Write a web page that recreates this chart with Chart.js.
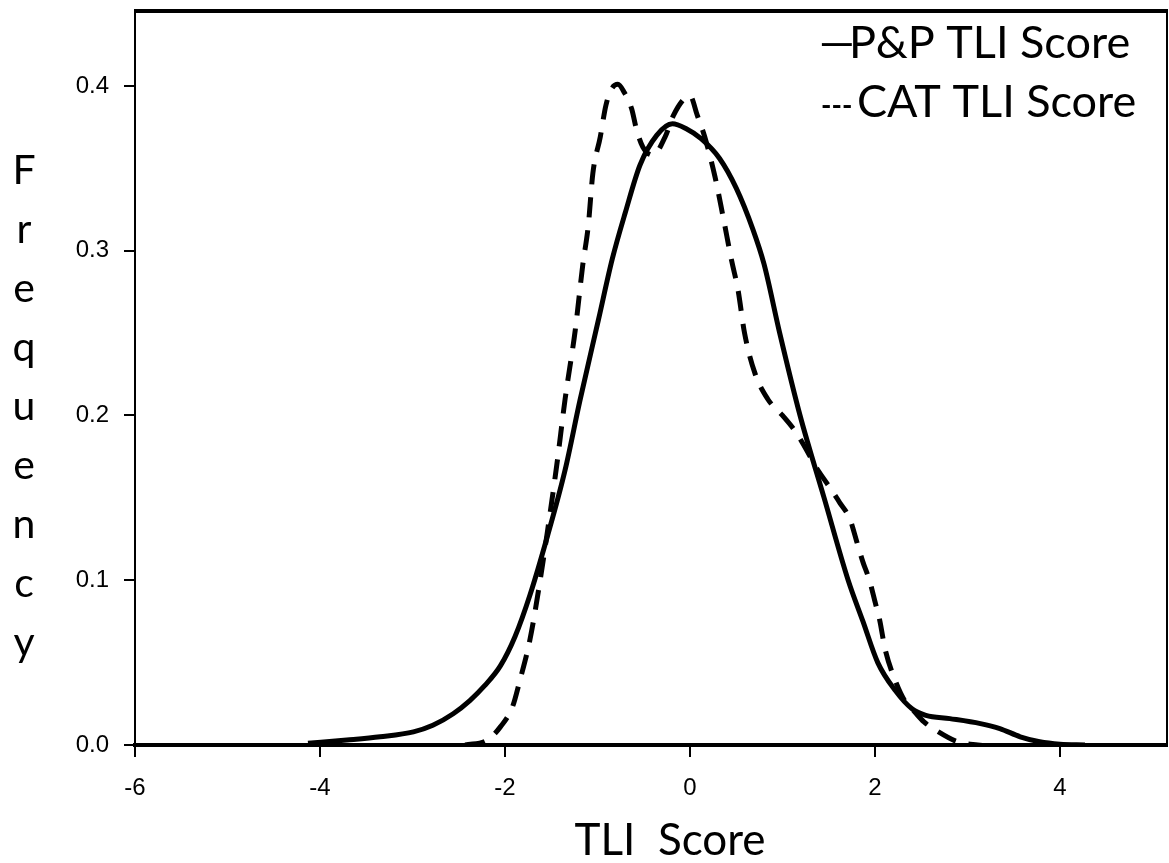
<!DOCTYPE html>
<html>
<head>
<meta charset="utf-8">
<script src="https://cdn.jsdelivr.net/npm/chart.js@4.4.1/dist/chart.umd.min.js"></script>
<style>
  html, body { margin: 0; padding: 0; background: #fff; }
  #wrap { width: 1169px; height: 863px; position: relative; }
</style>
</head>
<body>
<div id="wrap"><canvas id="c"></canvas></div>
<script>
// ---- data ----
const xTicks = [-6, -4, -2, 0, 2, 4];
const yTicks = [0.0, 0.1, 0.2, 0.3, 0.4];

const ppX = [-4.13, -3.71, -3.35, -2.99, -2.78, -2.56, -2.38, -2.22, -2.05, -1.89, -1.73, -1.54, -1.35, -1.19, -0.99, -0.84, -0.70, -0.54, -0.36, -0.19, -0.04, 0.12, 0.32, 0.50, 0.68, 0.80, 0.97, 1.19, 1.45, 1.71, 1.87, 2.03, 2.22, 2.40, 2.55, 2.81, 3.14, 3.35, 3.57, 3.78, 4.00, 4.27];
const ppY = [0.001, 0.003, 0.005, 0.008, 0.012, 0.019, 0.027, 0.036, 0.048, 0.066, 0.091, 0.127, 0.167, 0.209, 0.258, 0.295, 0.323, 0.352, 0.370, 0.377, 0.374, 0.368, 0.356, 0.338, 0.313, 0.292, 0.250, 0.200, 0.150, 0.100, 0.075, 0.050, 0.033, 0.022, 0.018, 0.016, 0.013, 0.010, 0.005, 0.002, 0.0005, 0.0];

const catX = [-2.43, -2.19, -2.05, -1.92, -1.84, -1.73, -1.62, -1.54, -1.44, -1.35, -1.24, -1.16, -1.10, -1.05, -0.97, -0.91, -0.85, -0.78, -0.71, -0.63, -0.58, -0.51, -0.40, -0.27, -0.18, -0.05, 0.00, 0.08, 0.16, 0.27, 0.36, 0.45, 0.52, 0.59, 0.70, 0.84, 1.00, 1.13, 1.22, 1.37, 1.49, 1.62, 1.73, 1.80, 1.87, 1.94, 2.00, 2.05, 2.11, 2.22, 2.32, 2.43, 2.53, 2.67, 2.89, 3.11, 3.34];
const catY = [0.0, 0.003, 0.011, 0.023, 0.039, 0.064, 0.100, 0.130, 0.170, 0.210, 0.252, 0.291, 0.315, 0.347, 0.369, 0.388, 0.398, 0.401, 0.396, 0.386, 0.374, 0.363, 0.358, 0.369, 0.382, 0.393, 0.394, 0.382, 0.369, 0.345, 0.320, 0.294, 0.276, 0.250, 0.226, 0.210, 0.200, 0.191, 0.183, 0.168, 0.158, 0.147, 0.137, 0.124, 0.111, 0.100, 0.087, 0.076, 0.058, 0.039, 0.027, 0.020, 0.014, 0.0085, 0.002, 0.0, -0.001];

const seriesNames = ['P&P TLI Score', 'CAT TLI Score'];
const xTitle = 'TLI  Score';
const yTitle = 'Frequency';

// ---- chart ----
const toPts = (xs, ys) => xs.map((x, i) => ({ x: x, y: ys[i] }));

const frame = {
  id: 'frame',
  afterDraw(chart) {
    const ctx = chart.ctx;
    const a = chart.chartArea;
    ctx.save();
    ctx.strokeStyle = '#000';
    // top border
    ctx.lineWidth = 4;
    ctx.beginPath();
    ctx.moveTo(a.left - 1, a.top);
    ctx.lineTo(a.right + 1, a.top);
    ctx.stroke();
    // right border
    ctx.lineWidth = 2;
    ctx.beginPath();
    ctx.moveTo(a.right, a.top);
    ctx.lineTo(a.right, a.bottom);
    ctx.stroke();

    ctx.fillStyle = '#000';
    ctx.textBaseline = 'alphabetic';
    // legend (as text)
    ctx.textAlign = 'left';
    ctx.font = '45px Lato';
    ctx.fillText('\u2014', 819, 58);
    ctx.fillText(seriesNames[0], 849, 58);
    ctx.font = 'bold 28px Lato';
    ctx.fillText('---', 821, 115);
    ctx.font = '45px Lato';
    ctx.fillText(seriesNames[1], 857, 117);

    // x title
    ctx.textAlign = 'center';
    ctx.font = '44px Lato';
    ctx.fillText(xTitle, 670, 855);

    // y title, stacked letters
    ctx.font = '41px Lato';
    const letters = yTitle.split('');
    letters.forEach((ch, i) => {
      ctx.fillText(ch, 24, 184 + i * 59);
    });
    ctx.restore();
  }
};

new Chart(document.getElementById('c'), {
  type: 'line',
  data: {
    datasets: [
      {
        label: seriesNames[0],
        data: toPts(ppX, ppY),
        borderColor: '#000',
        borderWidth: 5,
        pointRadius: 0,
        fill: false,
        cubicInterpolationMode: 'monotone'
      },
      {
        label: seriesNames[1],
        data: toPts(catX, catY),
        borderColor: '#000',
        borderWidth: 5,
        borderDash: [20, 13],
        pointRadius: 0,
        fill: false,
        cubicInterpolationMode: 'monotone'
      }
    ]
  },
  options: {
    responsive: true,
    maintainAspectRatio: false,
    animation: false,
    devicePixelRatio: 1,
    layout: { padding: { top: 11, right: 2, left: 0, bottom: 0 } },
    plugins: { legend: { display: false }, tooltip: { enabled: false } },
    scales: {
      x: {
        type: 'linear',
        min: -6,
        max: 5.157,
        afterBuildTicks: s => { s.ticks = xTicks.map(v => ({ value: v })); },
        afterFit: s => { s.height = 118; s.paddingLeft = 0; s.paddingRight = 0; },
        border: { display: true, color: '#000', width: 4 },
        grid: { display: true, drawOnChartArea: false, drawTicks: true, tickLength: 12, color: '#000', lineWidth: 2 },
        ticks: {
          color: '#000',
          font: { family: 'Liberation Sans', size: 24 },
          padding: 17,
          maxRotation: 0,
          autoSkip: false,
          callback: v => String(v)
        }
      },
      y: {
        type: 'linear',
        min: 0,
        max: 0.4455,
        afterBuildTicks: s => { s.ticks = yTicks.map(v => ({ value: v })); },
        afterFit: s => { s.width = 135; s.paddingTop = 0; s.paddingBottom = 0; },
        border: { display: true, color: '#000', width: 2 },
        grid: { display: true, drawOnChartArea: false, drawTicks: true, tickLength: 11, color: '#000', lineWidth: 2 },
        ticks: {
          color: '#000',
          font: { family: 'Liberation Sans', size: 24 },
          padding: 15,
          autoSkip: false,
          callback: v => v.toFixed(1)
        }
      }
    }
  },
  plugins: [frame]
});
</script>
</body>
</html>
